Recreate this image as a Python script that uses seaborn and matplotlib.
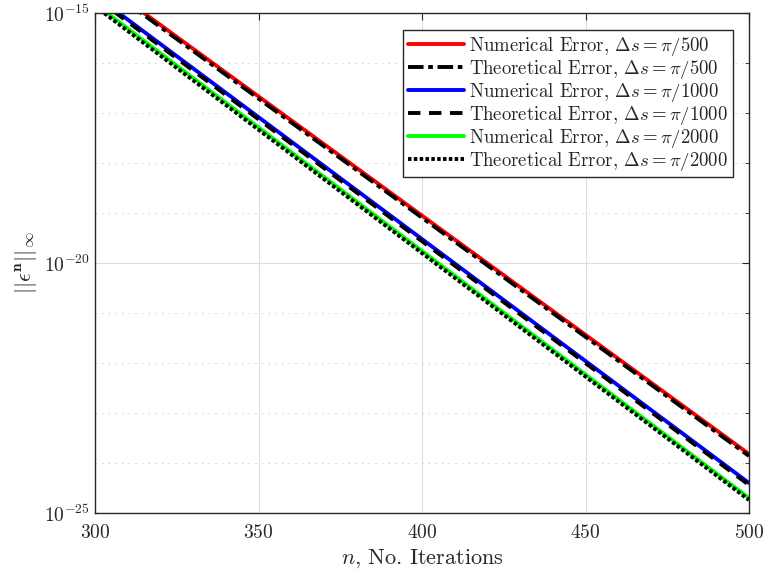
import numpy as np
import pandas as pd
import matplotlib
matplotlib.use("Agg")
import matplotlib.pyplot as plt
import matplotlib.ticker as mticker
import seaborn as sns

# ---- data ----
n_iter = [300, 500]
num_500 = [10**-14.285, 10**-23.82]
theo_500 = [10**-14.328, 10**-23.86]
num_1000 = [10**-14.644, 10**-24.40]
theo_1000 = [10**-14.688, 10**-24.44]
num_2000 = [10**-14.817, 10**-24.70]
theo_2000 = [10**-14.864, 10**-24.74]

labels = [
    r"Numerical Error, $\Delta s = \pi/500$",
    r"Theoretical Error, $\Delta s = \pi/500$",
    r"Numerical Error, $\Delta s = \pi/1000$",
    r"Theoretical Error, $\Delta s = \pi/1000$",
    r"Numerical Error, $\Delta s = \pi/2000$",
    r"Theoretical Error, $\Delta s = \pi/2000$",
]
series = [num_500, theo_500, num_1000, theo_1000, num_2000, theo_2000]
colors = ["#ff0000", "#000000", "#0000ff", "#000000", "#00ff00", "#000000"]
styles = ["-", (0, (4.0, 1.2, 1.2, 1.2)), "-", (0, (3.2, 2.2)), "-", (0, (0.9, 0.6))]

sns.set_style("white")
plt.rcParams["font.family"] = ["cmr10", "DejaVu Serif"]
plt.rcParams["mathtext.fontset"] = "cm"
plt.rcParams["axes.unicode_minus"] = False
plt.rcParams["axes.formatter.use_mathtext"] = True

fig = plt.figure(figsize=(7.64, 5.78), dpi=100)
ax = fig.add_axes([95 / 764, 1 - 513 / 578, (749 - 95) / 764, (513 - 13) / 578])

for vals, lab, c, ls in zip(series, labels, colors, styles):
    df = pd.DataFrame({"n": n_iter, "err": vals})
    sns.lineplot(data=df, x="n", y="err", ax=ax, color=c, linestyle=ls,
                 linewidth=2.8, label=lab)

ax.set_yscale("log")
ax.set_xlim(300, 500)
ax.set_ylim(1e-25, 1e-15)
ax.set_xticks([300, 350, 400, 450, 500])
ax.set_yticks([1e-25, 1e-20, 1e-15])
ax.yaxis.set_minor_locator(mticker.FixedLocator([10.0 ** k for k in range(-25, -14)]))
ax.yaxis.set_minor_formatter(mticker.NullFormatter())
ax.yaxis.set_major_formatter(mticker.LogFormatterSciNotation())

ax.grid(True, which="major", color="0.87", linewidth=0.8, linestyle="-")
ax.grid(True, which="minor", axis="y", color="0.78", linewidth=0.8, linestyle=(0, (1, 5)))
ax.set_axisbelow(True)

for sp in ax.spines.values():
    sp.set_color("0.15")
    sp.set_linewidth(1.0)
ax.tick_params(axis="both", which="both", direction="in", top=True, right=True,
               colors="0.15", labelsize=14)
ax.tick_params(which="major", length=5)
ax.tick_params(which="minor", length=3)
ax.tick_params(axis="x", pad=8)

ax.set_xlabel(r"$n$, No. Iterations", fontsize=16, color="0.15")
ax.set_ylabel(r"$||\epsilon^{\mathbf{n}}||_{\infty}$", fontsize=16, color="0.15", labelpad=4)

leg = ax.legend(loc="upper right",
                bbox_to_anchor=((733 - 95) / 654, 1 - (30 - 13) / 500),
                borderaxespad=0, frameon=True,
                fontsize=13.5, handlelength=3.0, labelspacing=0.0, handletextpad=0.3,
                borderpad=0.25, fancybox=False, framealpha=1)
leg.get_frame().set_edgecolor("0.15")
leg.get_frame().set_linewidth(1.0)

fig.savefig("out.png", dpi=100)
